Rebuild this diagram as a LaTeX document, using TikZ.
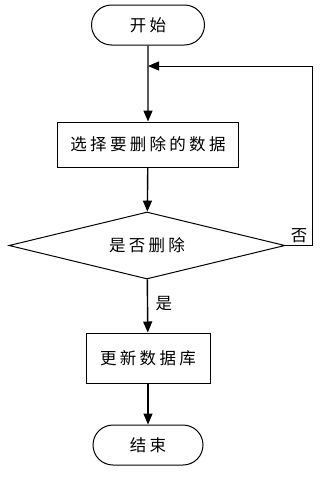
\documentclass[tikz,border=0pt]{standalone}
\usepackage{fontspec}
\usepackage{tikz}
\usetikzlibrary{positioning,shapes.geometric,shapes.misc,arrows.meta}
\newfontfamily\cjk[LetterSpace=20]{Noto Sans CJK SC}

\begin{document}
\begin{tikzpicture}[
  x=1pt, y=-1pt,
  every node/.style={font=\cjk\fontsize{16.5}{18}\selectfont},
  terminal/.style={rounded rectangle, draw, line width=1pt, minimum width=113pt, minimum height=40pt, inner sep=0pt},
  process/.style={rectangle, draw, line width=1pt, inner sep=0pt},
  decision/.style={diamond, draw, line width=1pt, shape aspect=4.1, minimum width=276pt, minimum height=67pt, inner sep=0pt},
  flow/.style={-{Triangle[length=11pt,width=9pt]}, line width=1.4pt}
]
  \useasboundingbox (0,0) rectangle (335,477);

  \node[terminal] (start) at (148,25) {开始};
  \node[process, minimum width=181pt, minimum height=45pt] (select) at (148,144.5) {选择要删除的数据};
  \node[decision] (ask) at (147,245.5) {是否删除};
  \node[process, minimum width=124pt, minimum height=50pt] (update) at (148,358) {更新数据库};
  \node[terminal, minimum width=110pt] (stop) at (148,445) {结束};
  \coordinate (back) at (148,66);

  \draw[flow] (start) -- (select);
  \draw[flow] (select) -- (ask);
  \draw[flow] (ask) -- node[right, pos=0.45, xshift=4pt]{是} (update);
  \draw[flow] (update) -- (stop);
  \draw[flow, line width=1pt] (ask.east) -- node[above, inner sep=2pt]{否} ++(27,0) |- (back);
\end{tikzpicture}
\end{document}
